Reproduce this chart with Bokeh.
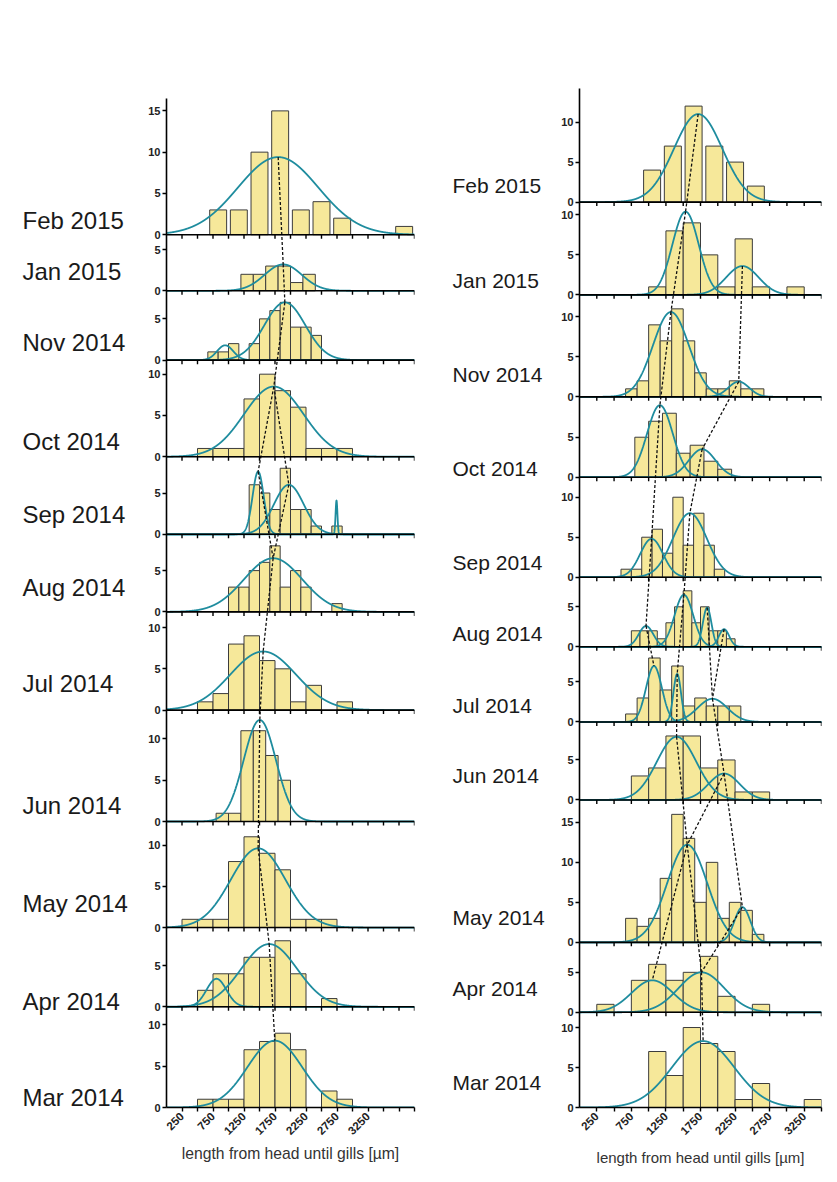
import math
import numpy as np
from bokeh.plotting import figure
from bokeh.models import Range1d, FixedTicker
from bokeh.core.properties import value
from bokeh.layouts import row
from bokeh.embed import file_html
from bokeh.resources import INLINE

MONTHS = ["Feb 2015", "Jan 2015", "Nov 2014", "Oct 2014", "Sep 2014", "Aug 2014",
          "Jul 2014", "Jun 2014", "May 2014", "Apr 2014", "Mar 2014"]

X_TICKS_STEP = 250
X_LABELS = [250, 750, 1250, 1750, 2250, 2750, 3250]
Y_TICKS = [0, 5, 10, 15]
X_TITLE = "length from head until gills [µm]"

# ---------------- left column ----------------
L_XMAX = 4000
L_BIN_WIDTH = [1000 / 3, 200, 1000 / 6, 250, 1000 / 6, 1000 / 6, 250, 200, 250, 250, 250]
L_BIN_START = [2000 / 3, 1200, 4000 / 6, 500, 8000 / 6, 1000, 500, 800, 250, 500, 500]
L_COUNTS = [
    [3, 3, 10, 15, 3, 4, 2, 0, 0, 1],
    [2, 2, 3, 3, 1, 2],
    [1, 1, 2, 0, 2, 5, 6, 7, 4, 4, 3],
    [1, 1, 1, 7, 10, 8, 6, 1, 1, 1],
    [6, 5, 3, 8, 3, 3, 1, 0, 1],
    [3, 3, 5, 6, 8, 3, 5, 3, 0, 0, 1],
    [1, 2, 8, 9, 6, 5, 1, 3, 0, 1],
    [1, 1, 11, 11, 8, 5],
    [1, 1, 1, 8, 11, 9, 7, 1, 1, 1],
    [2, 4, 4, 6, 6, 8, 4, 0, 1],
    [1, 1, 1, 7, 8, 9, 7, 0, 2, 1],
]
L_YMAX = [16.5, 6.8, 8.4, 11.7, 9.4, 9.4, 11.9, 13.5, 12.85, 9.6, 12.2]
L_FIT_PANEL = [0, 1, 2, 2, 3, 4, 4, 4, 5, 6, 7, 8, 9, 9, 10]
L_FIT_MEAN = [1801, 1882, 946, 1909, 1731, 1478, 1973, 2742, 1720, 1559, 1505, 1478, 806, 1656, 1747]
L_FIT_SD = [650, 300, 130, 330, 480, 90, 240, 15, 470, 530, 260, 440, 160, 450, 440]
L_FIT_AMP = [9.4, 3.2, 1.8, 7.0, 8.5, 7.6, 6.0, 4.1, 6.5, 7.1, 12.3, 9.6, 3.4, 7.6, 8.1]
L_LINKS = [(0, 1), (1, 3), (3, 4), (4, 5), (4, 6), (5, 8), (6, 8), (8, 9), (9, 10),
           (10, 11), (11, 13), (13, 14)]

# ---------------- right column ----------------
R_XMAX = 3500
R_BIN_WIDTH = [300, 250, 1000 / 6, 200, 150, 125, 1000 / 6, 250, 1000 / 6, 250, 250]
R_BIN_START = [900, 1000, 4000 / 6, 800, 600, 750, 4000 / 6, 750, 4000 / 6, 250, 1000]
R_COUNTS = [
    [4, 7, 12, 7, 5, 2],
    [1, 8, 9, 5, 1, 7, 1, 0, 1],
    [1, 2, 9, 7, 11, 7, 3, 1, 1, 2, 1, 1],
    [5, 7, 8, 3, 4, 2, 1],
    [1, 1, 5, 6, 3, 10, 4, 8, 4, 1],
    [2, 2, 2, 1, 3, 5, 7, 3, 5, 2, 2, 1],
    [1, 3, 8, 4, 7, 2, 3, 2, 2, 2],
    [3, 4, 8, 8, 4, 5, 1, 1],
    [3, 2, 3, 8, 16, 13, 5, 10, 3, 5, 4, 1],
    [1, 0, 4, 6, 4, 5, 7, 2, 0, 1],
    [7, 4, 10, 8, 7, 1, 3, 0, 0, 1],
]
R_YMAX = [14.2, 11.6, 12.75, 10.05, 12.5, 8.7, 9.4, 9.75, 17.8, 8.75, 11.9]
R_FIT_PANEL = [0, 1, 1, 2, 2, 3, 3, 4, 4, 5, 5, 5, 5, 6, 6, 6, 7, 7, 8, 8, 9, 9, 10]
R_FIT_MEAN = [1716, 1534, 2356, 1322, 2303, 1163, 1774, 1043, 1596, 962, 1510, 1846, 2091,
              1077, 1413, 1923, 1404, 2091, 1558, 2356, 1053, 1764, 1788]
R_FIT_SD = [350, 190, 235, 260, 150, 186, 192, 165, 245, 105, 135, 62, 75,
            115, 55, 215, 285, 225, 290, 115, 300, 330, 450]
R_FIT_AMP = [11.0, 10.4, 3.6, 10.6, 1.9, 9.0, 3.5, 4.8, 8.0, 2.6, 6.5, 4.9, 2.2,
             7.0, 6.0, 2.9, 7.9, 3.3, 12.2, 4.4, 4.0, 5.0, 8.3]
R_LINKS = [(0, 1), (1, 3), (2, 4), (3, 5), (4, 6), (5, 7), (6, 8), (7, 9), (8, 10),
           (9, 13), (10, 14), (11, 15), (12, 15), (14, 16), (15, 17), (16, 18),
           (17, 18), (17, 19), (18, 20), (18, 21), (19, 21), (21, 22)]

# ---------------- styles / layout ----------------
BAR_FILL = "#F6E89A"
BAR_LINE = "#3c3c3c"
CURVE = "#1E8C9E"
FONT = "Liberation Sans"
BORDER_TOP = 88
BORDER_BOTTOM = 66

L_LAYOUT = dict(frame_w=248, px_unit=8.25, top_pad=10, border_l=30, border_r=6,
                label_w=136, label_x=22, label_size="24px",
                title_size="15.7px", title_standoff=4,
                bar_frac=[0.82] + [1.0] * 10,
                label_dy=[1.7, 2.4, 2.1, 1.9, 2.4, 3.0, 3.2, 1.9, 2.9, 0.7, 1.2])
R_LAYOUT = dict(frame_w=242, px_unit=8.0, top_pad=0, border_l=30, border_r=8,
                label_w=129, label_x=32, label_size="21px",
                title_size="15px", title_standoff=8,
                bar_frac=[0.82] + [1.0] * 10,
                label_dy=[2.1, 1.8, 2.75, 1.1, 1.8, 1.7, 2.0, 3.0, 3.1, 3.0, 3.1])


def make_column(xmax, widths, starts, counts, ymax, fpanel, fmean, fsd, famp, links, lay):
    n = len(ymax)
    offsets = [round(sum(ymax[i + 1:]), 3) for i in range(n)]
    total = round(sum(ymax), 3)
    pad = lay["top_pad"] / lay["px_unit"]
    frame_h = int(round(total * lay["px_unit"] + lay["top_pad"]))
    yr = Range1d(0, total + pad)
    p = figure(frame_width=lay["frame_w"], frame_height=frame_h,
               x_range=Range1d(0, xmax), y_range=yr,
               output_backend="svg", toolbar_location=None,
               min_border_left=lay["border_l"], min_border_right=lay["border_r"],
               min_border_top=BORDER_TOP, min_border_bottom=BORDER_BOTTOM)
    p.outline_line_color = None
    p.grid.visible = False

    # bars
    lefts, rights, tops, bottoms = [], [], [], []
    for i in range(n):
        w = widths[i]
        fr = lay["bar_frac"][i]
        for k, c in enumerate(counts[i]):
            if c <= 0:
                continue
            l0 = starts[i] + k * w + (1 - fr) / 2 * w
            lefts.append(l0)
            rights.append(l0 + fr * w)
            bottoms.append(offsets[i])
            tops.append(offsets[i] + c)
    p.quad(left=lefts, right=rights, top=tops, bottom=bottoms,
           fill_color=BAR_FILL, line_color=BAR_LINE, line_width=1)

    # gaussian fits
    xs_grid = np.linspace(0, xmax, 3001)
    xs, ys = [], []
    for j in range(len(fmean)):
        off = offsets[fpanel[j]]
        yv = off + famp[j] * np.exp(-0.5 * ((xs_grid - fmean[j]) / fsd[j]) ** 2)
        xs.append(xs_grid.tolist())
        ys.append(yv.tolist())
    p.multi_line(xs=xs, ys=ys, line_color=CURVE, line_width=1.8)

    # dashed links between peaks
    x0s, y0s, x1s, y1s = [], [], [], []
    for a, b in links:
        x0s.append(fmean[a]); y0s.append(offsets[fpanel[a]] + famp[a])
        x1s.append(fmean[b]); y1s.append(offsets[fpanel[b]] + famp[b])
    p.segment(x0=x0s, y0=y0s, x1=x1s, y1=y1s, line_color="#111111",
              line_width=1.3, line_dash="3 2")

    # baselines and x ticks of inner panels
    tick_x = list(range(X_TICKS_STEP, xmax + 1, X_TICKS_STEP))
    tl = 4.0 / lay["px_unit"]
    bx0, by0, bx1, by1 = [], [], [], []
    for i in range(n - 1):
        bx0.append(0); by0.append(offsets[i]); bx1.append(xmax); by1.append(offsets[i])
    p.segment(x0=bx0, y0=by0, x1=bx1, y1=by1, line_color="black", line_width=1.6)
    tx0, ty0, tx1, ty1 = [], [], [], []
    for i in range(n - 1):
        for t in tick_x:
            tx0.append(t); ty0.append(offsets[i]); tx1.append(t); ty1.append(offsets[i] - tl)
    p.segment(x0=tx0, y0=ty0, x1=tx1, y1=ty1, line_color="black", line_width=1.4)

    # y axis
    yt, ylab = [], {}
    for i in range(n):
        for v in Y_TICKS:
            if v <= ymax[i] - 0.3:
                t = round(offsets[i] + v, 3)
                yt.append(t)
                ylab[t] = str(v)
    yax = p.yaxis[0]
    yax.ticker = FixedTicker(ticks=yt)
    yax.major_label_overrides = ylab
    yax.bounds = (0, total)
    yax.minor_tick_line_color = None
    yax.major_tick_in = 0
    yax.major_tick_out = 4
    yax.axis_line_width = 1.6
    yax.major_tick_line_width = 1.4
    yax.major_label_text_font = FONT
    yax.major_label_text_font_style = "bold"
    yax.major_label_text_font_size = "11px"
    yax.major_label_text_color = "#222222"
    yax.major_label_standoff = 2

    # x axis
    xax = p.xaxis[0]
    xax.ticker = FixedTicker(ticks=tick_x)
    xax.major_label_overrides = {t: (str(t) if t in X_LABELS else "") for t in tick_x}
    xax.major_label_orientation = math.pi / 4
    xax.minor_tick_line_color = None
    xax.major_tick_in = 0
    xax.major_tick_out = 4
    xax.axis_line_width = 1.6
    xax.major_tick_line_width = 1.4
    xax.major_label_text_font = FONT
    xax.major_label_text_font_style = "bold"
    xax.major_label_text_font_size = "11.5px"
    xax.major_label_text_color = "#222222"
    xax.major_label_standoff = 3
    xax.axis_label = X_TITLE
    xax.axis_label_text_font = FONT
    xax.axis_label_text_font_style = "normal"
    xax.axis_label_text_font_size = lay["title_size"]
    xax.axis_label_text_color = "#333333"
    xax.axis_label_standoff = lay["title_standoff"]

    # month label panel (own figure, same vertical scale)
    lab = figure(frame_width=lay["label_w"], frame_height=frame_h,
                 x_range=Range1d(0, lay["label_w"]), y_range=yr,
                 output_backend="svg", toolbar_location=None,
                 x_axis_type=None, y_axis_type=None,
                 min_border_left=0, min_border_right=0,
                 min_border_top=BORDER_TOP, min_border_bottom=BORDER_BOTTOM)
    lab.outline_line_color = None
    lab.grid.visible = False
    lab.text(x=[lay["label_x"]] * n,
             y=[offsets[i] + lay["label_dy"][i] for i in range(n)],
             text=MONTHS, text_font=value(FONT), text_font_size=lay["label_size"],
             text_color="#1a1a1a", text_baseline="middle", text_align="left")
    return lab, p


labL, pL = make_column(L_XMAX, L_BIN_WIDTH, L_BIN_START, L_COUNTS, L_YMAX,
                       L_FIT_PANEL, L_FIT_MEAN, L_FIT_SD, L_FIT_AMP, L_LINKS, L_LAYOUT)
labR, pR = make_column(R_XMAX, R_BIN_WIDTH, R_BIN_START, R_COUNTS, R_YMAX,
                       R_FIT_PANEL, R_FIT_MEAN, R_FIT_SD, R_FIT_AMP, R_LINKS, R_LAYOUT)

layout = row(labL, pL, labR, pR)
open("out.html", "w").write(file_html(layout, INLINE))
